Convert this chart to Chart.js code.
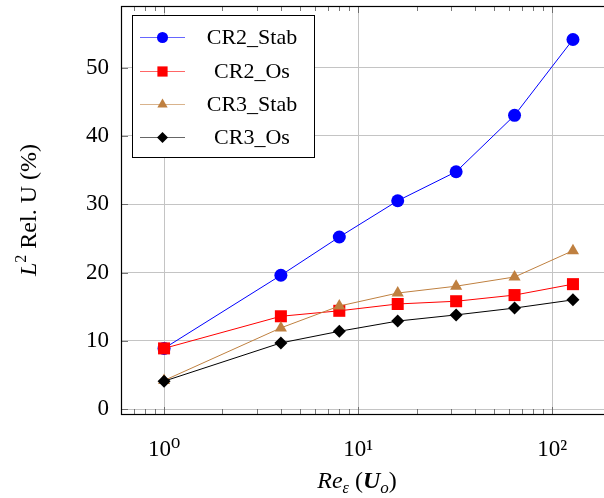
<!DOCTYPE html>
<html>
<head>
<meta charset="utf-8">
<script src="https://cdn.jsdelivr.net/npm/chart.js@4.4.1/dist/chart.umd.min.js"></script>
<style>
  html, body { margin: 0; padding: 0; background: #fff; overflow: hidden; }
  #wrap { width: 604px; height: 498px; position: relative; }
</style>
</head>
<body>
<div id="wrap"><canvas id="chart"></canvas></div>
<script>
// data
const xValues = [1, 4, 8, 16, 32, 64, 128];
const cr2Stab = [8.9, 19.6, 25.2, 30.5, 34.75, 43.0, 54.1];
const cr2Os   = [8.9, 13.6, 14.4, 15.4, 15.8, 16.7, 18.3];
const cr3Stab = [4.2, 11.9, 15.1, 17.0, 18.0, 19.35, 23.2];
const cr3Os   = [4.1, 9.7, 11.4, 12.9, 13.8, 14.8, 16.0];
const seriesNames = ['CR2_Stab', 'CR2_Os', 'CR3_Stab', 'CR3_Os'];
const yTicks = [0, 10, 20, 30, 40, 50];
const xTicks = [1, 10, 100];
const xTickLabels = ['10\u2070', '10\u00b9', '10\u00b2'];

const SERIF = '"Liberation Serif", "DejaVu Serif", serif';

function pts(ys) {
  return xValues.map((x, i) => ({ x: x, y: ys[i] }));
}

// later series are plotted on top, like pgfplots does
function makeSet(label, ys, color, style, radius, order) {
  return {
    label: label,
    data: pts(ys),
    borderColor: color,
    backgroundColor: color,
    borderWidth: 1,
    pointStyle: style,
    pointRadius: radius,
    pointHoverRadius: radius,
    pointBorderWidth: 0,
    tension: 0,
    order: order
  };
}

const datasets = [
  makeSet(seriesNames[0], cr2Stab, '#0000ff', 'circle', 6.5, 4),
  makeSet(seriesNames[1], cr2Os, '#ff0000', 'rect', 8.5, 3),
  makeSet(seriesNames[2], cr3Stab, '#bf8040', 'triangle', 7, 2),
  makeSet(seriesNames[3], cr3Os, '#000000', 'rectRot', 6.5, 1)
];

// draws a run of text pieces with different fonts, centred on x
function drawRuns(ctx, runs, cx, cy) {
  let w = 0;
  runs.forEach(r => { ctx.font = r.font; w += ctx.measureText(r.t).width; });
  let x = cx - w / 2;
  ctx.textAlign = 'left';
  ctx.textBaseline = 'alphabetic';
  runs.forEach(r => {
    ctx.font = r.font;
    ctx.fillText(r.t, x, cy + (r.dy || 0));
    x += ctx.measureText(r.t).width;
  });
}

// no extra room around the plot for tick labels
function noPad(s) {
  s.paddingTop = 0; s.paddingBottom = 0; s.paddingLeft = 0; s.paddingRight = 0;
}

const extras = {
  id: 'extras',
  afterDatasetsDraw(chart) {
    const ctx = chart.ctx;
    const a = chart.chartArea;
    const xs = chart.scales.x;
    const ys = chart.scales.y;
    ctx.save();

    // minor / major ticks, pointing inward
    ctx.strokeStyle = '#555';
    ctx.lineWidth = 0.8;
    ctx.beginPath();
    for (let d = 0.1; d <= 100; d *= 10) {
      for (let k = 1; k <= 9; k++) {
        const v = d * k;
        if (v < xs.min || v > xs.max) continue;
        const px = Math.round(xs.getPixelForValue(v)) + 0.5;
        const len = k === 1 ? 7 : 5;
        ctx.moveTo(px, a.bottom); ctx.lineTo(px, a.bottom - len);
        ctx.moveTo(px, a.top); ctx.lineTo(px, a.top + len);
      }
    }
    yTicks.forEach(v => {
      const py = Math.round(ys.getPixelForValue(v)) + 0.5;
      ctx.moveTo(a.left, py); ctx.lineTo(a.left + 7, py);
    });
    ctx.stroke();

    // frame
    ctx.strokeStyle = '#000';
    ctx.lineWidth = 1.2;
    ctx.strokeRect(a.left + 0.5, a.top + 0.5, a.right - a.left + 4, a.bottom - a.top);

    // legend box inside plot
    const bx = 132, by = 15, bw = 182, bh = 142;
    ctx.fillStyle = '#fff';
    ctx.fillRect(bx, by, bw, bh);
    ctx.lineWidth = 1;
    ctx.strokeRect(bx + 0.5, by + 0.5, bw, bh);
    const rows = [37, 71, 104, 137];
    chart.data.datasets.forEach((ds, i) => {
      const y = rows[i];
      ctx.strokeStyle = ds.borderColor;
      ctx.globalAlpha = 0.6;
      ctx.lineWidth = 1;
      ctx.beginPath();
      ctx.moveTo(140, y + 0.5); ctx.lineTo(185, y + 0.5);
      ctx.stroke();
      ctx.globalAlpha = 1;
      ctx.fillStyle = ds.backgroundColor;
      Chart.helpers.drawPoint(ctx, {
        pointStyle: ds.pointStyle, radius: ds.pointRadius * 0.85, rotation: 0, borderWidth: 0
      }, 162.5, y + 0.5);
      ctx.fillStyle = '#000';
      ctx.font = '22px ' + SERIF;
      ctx.textAlign = 'center';
      ctx.textBaseline = 'middle';
      ctx.fillText(ds.label, 252, y + 1);
    });

    // axis titles with mixed styles
    ctx.fillStyle = '#000';
    drawRuns(ctx, [
      { t: 'Re', font: 'italic 24px ' + SERIF },
      { t: '\u03b5', font: 'italic 16px ' + SERIF, dy: 5 },
      { t: ' (', font: '24px ' + SERIF },
      { t: 'U', font: 'italic bold 24px ' + SERIF },
      { t: 'o', font: 'italic 17px ' + SERIF, dy: 5 },
      { t: ')', font: '24px ' + SERIF }
    ], 357, 488);

    ctx.save();
    ctx.translate(36, 210);
    ctx.rotate(-Math.PI / 2);
    drawRuns(ctx, [
      { t: 'L', font: 'italic 24px ' + SERIF },
      { t: '2', font: '16px ' + SERIF, dy: -10 },
      { t: ' Rel. U (%)', font: '24px ' + SERIF }
    ], 0, 0);
    ctx.restore();

    ctx.restore();
  }
};

new Chart(document.getElementById('chart'), {
  type: 'line',
  data: { datasets: datasets },
  plugins: [extras],
  options: {
    responsive: true,
    maintainAspectRatio: false,
    animation: false,
    layout: { autoPadding: false, padding: { top: 6, right: 0, left: 0, bottom: 0 } },
    plugins: { legend: { display: false }, tooltip: { enabled: false } },
    scales: {
      x: {
        type: 'logarithmic',
        min: 0.616,
        max: 185,
        afterBuildTicks: s => { s.ticks = xTicks.map(v => ({ value: v })); },
        afterFit: s => { s.height = 84; noPad(s); },
        grid: { color: '#c4c4c4', lineWidth: 1, drawTicks: false },
        border: { display: false },
        ticks: {
          padding: 22,
          color: '#000',
          font: { family: SERIF, size: 23 },
          callback: (v) => xTickLabels[xTicks.indexOf(v)],
          maxRotation: 0,
          autoSkip: false
        }
      },
      y: {
        min: -0.7,
        max: 59,
        afterBuildTicks: s => { s.ticks = yTicks.map(v => ({ value: v })); },
        afterFit: s => { s.width = 121; noPad(s); },
        grid: { color: '#c4c4c4', lineWidth: 1, drawTicks: false },
        border: { display: false },
        ticks: {
          padding: 12,
          color: '#000',
          font: { family: SERIF, size: 23 },
          callback: v => String(v)
        }
      }
    }
  }
});
</script>
</body>
</html>
